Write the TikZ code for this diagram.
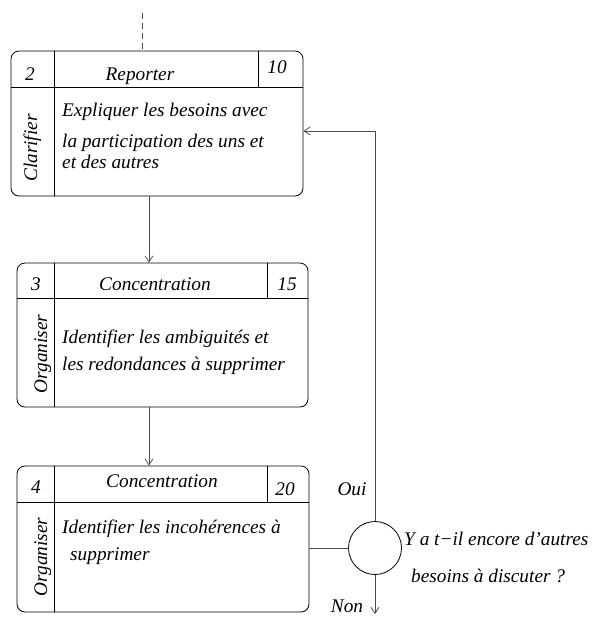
\documentclass[tikz,border=0pt]{standalone}
\usepackage{fontspec}
\setmainfont{Liberation Serif}[ItalicFont={Liberation Serif Italic}]
\usetikzlibrary{arrows.meta}
\begin{document}
\begin{tikzpicture}[x=1pt,y=-1pt,
  lbl/.style={font=\fontsize{19.3}{22}\selectfont\itshape, inner sep=0pt},
  card/.style={draw=black, line width=0.8pt, rounded corners=8pt, inner sep=0pt},
  rule/.style={draw=black, line width=0.8pt},
  conn/.style={draw=black!70, line width=0.8pt},
  arr/.style={conn, -{Straight Barb[length=6pt,width=8pt,line width=0.8pt]}},
  txt/.style={lbl, anchor=base west},
  ctr/.style={lbl, anchor=base},
  vlab/.style={lbl, rotate=90, anchor=base}
]
\useasboundingbox (0,0) rectangle (598,622);

% boxes
\node[card, minimum width=292pt, minimum height=145pt] (b1) at (157,123.5) {};
\node[card, minimum width=291pt, minimum height=144pt] (b2) at (162.5,335) {};
\node[card, minimum width=292pt, minimum height=146pt] (b3) at (163,539) {};

% box 1 rules
\coordinate (h1) at (0,87);
\coordinate (l1) at (54,0);
\coordinate (r1) at (258,0);
\draw[rule] (b1.west |- h1) -- (b1.east |- h1);
\draw[rule] (b1.north -| l1) -- (b1.south -| l1);
\draw[rule] (b1.north -| r1) -- (h1 -| r1);

% box 2 rules
\coordinate (h2) at (0,298);
\coordinate (l2) at (54,0);
\coordinate (r2) at (267,0);
\draw[rule] (b2.west |- h2) -- (b2.east |- h2);
\draw[rule] (b2.north -| l2) -- (b2.south -| l2);
\draw[rule] (b2.north -| r2) -- (h2 -| r2);

% box 3 rules
\coordinate (h3) at (0,502);
\coordinate (l3) at (54,0);
\coordinate (r3) at (267,0);
\draw[rule] (b3.west |- h3) -- (b3.east |- h3);
\draw[rule] (b3.north -| l3) -- (b3.south -| l3);
\draw[rule] (b3.north -| r3) -- (h3 -| r3);

% box 1 texts
\node[ctr] (n1) at (30,80) {2};
\node[ctr] (t1) at (140,80) {Reporter};
\node[ctr] (d1) at (277,73) {10};
\node[vlab] (v1) at (37,148) {Clarifier};
\node[txt] (p1a) at (62,116) {Expliquer les besoins avec};
\node[txt] (p1b) at (62,147) {la participation des uns et};
\node[txt] (p1c) at (62,168) {et des autres};

% box 2 texts
\node[ctr] (n2) at (36,290) {3};
\node[ctr] (t2) at (155,290) {Concentration};
\node[ctr] (d2) at (287,290) {15};
\node[vlab] (v2) at (47,354) {Organiser};
\node[txt] (p2a) at (62,343) {Identifier les ambiguités et};
\node[txt] (p2b) at (62,370) {les redondances à supprimer};

% box 3 texts
\node[ctr] (n3) at (36,493) {4};
\node[ctr] (t3) at (162,487) {Concentration};
\node[ctr] (d3) at (285,495) {20};
\node[vlab] (v3) at (47,557) {Organiser};
\node[txt] (p3a) at (62,533) {Identifier les incohérences à};
\node[txt] (p3b) at (70,560) {supprimer};

% decision
\node[draw=black, line width=0.8pt, circle, minimum size=53pt, inner sep=0pt] (q) at (375,548) {};
\node[txt] (qa) at (404,545) {Y a t−il encore d'autres};
\node[txt] (qb) at (411,582) {besoins à discuter ?};
\node[ctr] (oui) at (352,495) {Oui};
\node[ctr] (non) at (347,612) {Non};

% connectors
\coordinate (top) at (142,13);
\draw[conn, dash pattern=on 6pt off 4pt] (top) -- (b1.north -| top);
\coordinate (c) at (149,0);
\draw[arr] (b1.south -| c) -- (b2.north -| c);
\draw[arr] (b2.south -| c) -- (b3.north -| c);
\draw[conn] (b3.east |- q) -- (q.west);
\coordinate (fb) at (375,131);
\draw[arr] (q.north) -- (fb) -- (b1.east |- fb);
\coordinate (out) at (375,614);
\draw[arr] (q.south) -- (out);
\end{tikzpicture}
\end{document}
